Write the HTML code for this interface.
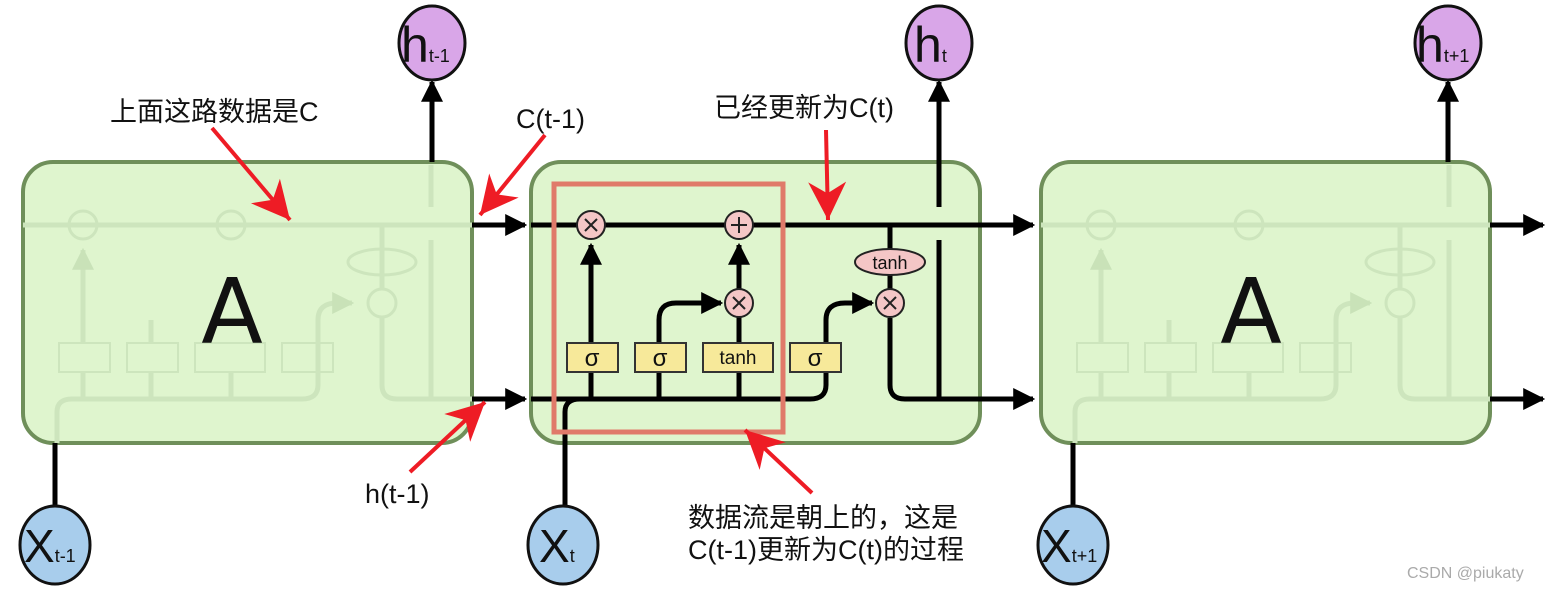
<!DOCTYPE html>
<html><head><meta charset="utf-8"><style>
html,body{margin:0;padding:0;background:#fff;}
svg{display:block;}
text{font-family:"Liberation Sans","Noto Sans CJK SC",sans-serif;}
</style></head><body>
<svg width="1556" height="591" viewBox="0 0 1556 591" xmlns="http://www.w3.org/2000/svg">
<defs>
<marker id="bk" viewBox="0 0 10 10" refX="9" refY="5" markerWidth="22" markerHeight="22" markerUnits="userSpaceOnUse" orient="auto"><path d="M0,0 L10,5 L0,10 z" fill="#000"/></marker>
<marker id="bkf" viewBox="0 0 10 10" refX="9" refY="5" markerWidth="22" markerHeight="22" markerUnits="userSpaceOnUse" orient="auto"><path d="M0,0 L10,5 L0,10 z" fill="#c9e2b8"/></marker>
<marker id="rd" viewBox="0 0 10 10" refX="10" refY="5" markerWidth="44" markerHeight="38" markerUnits="userSpaceOnUse" orient="auto"><path d="M0,0 L10,5 L0,10 L3,5 z" fill="#ee1c25"/></marker>
</defs>

<rect x="23" y="162" width="449" height="281" rx="30" fill="#dff5ce" stroke="#6f8f5a" stroke-width="4"/>
<rect x="531" y="162" width="449" height="281" rx="30" fill="#dff5ce" stroke="#6f8f5a" stroke-width="4"/>
<rect x="1041" y="162" width="449" height="281" rx="30" fill="#dff5ce" stroke="#6f8f5a" stroke-width="4"/>

<g transform="translate(-508,0)" stroke="#cde5bd" fill="none" stroke-width="5">
<line x1="531" y1="225" x2="980" y2="225"/>
<path d="M565 443 L565 412 Q565 399 580 399 L810 399 Q826 399 826 385 L826 320 Q826 303 845 303 L860 303" marker-end="url(#bkf)"/>
<line x1="591" y1="343" x2="591" y2="250" marker-end="url(#bkf)"/>
<line x1="591" y1="372" x2="591" y2="399"/>
<line x1="659" y1="372" x2="659" y2="399"/><line x1="659" y1="343" x2="659" y2="320"/>
<line x1="739" y1="372" x2="739" y2="399"/>
<line x1="890" y1="225" x2="890" y2="288"/>
<path d="M890 318 L890 385 Q890 399 905 399 L980 399"/>
<line x1="939" y1="165" x2="939" y2="207"/><line x1="939" y1="240" x2="939" y2="399"/>
<circle cx="591" cy="225" r="14" stroke-width="3"/><circle cx="739" cy="225" r="14" stroke-width="3"/><circle cx="890" cy="303" r="14" stroke-width="3"/>
<ellipse cx="890" cy="262" rx="34" ry="13" stroke-width="3"/>
<rect x="567" y="343" width="51" height="29" stroke-width="2"/><rect x="635" y="343" width="51" height="29" stroke-width="2"/><rect x="703" y="343" width="70" height="29" stroke-width="2"/><rect x="790" y="343" width="51" height="29" stroke-width="2"/>
</g>
<g transform="translate(510,0)" stroke="#cde5bd" fill="none" stroke-width="5">
<line x1="531" y1="225" x2="980" y2="225"/>
<path d="M565 443 L565 412 Q565 399 580 399 L810 399 Q826 399 826 385 L826 320 Q826 303 845 303 L860 303" marker-end="url(#bkf)"/>
<line x1="591" y1="343" x2="591" y2="250" marker-end="url(#bkf)"/>
<line x1="591" y1="372" x2="591" y2="399"/>
<line x1="659" y1="372" x2="659" y2="399"/><line x1="659" y1="343" x2="659" y2="320"/>
<line x1="739" y1="372" x2="739" y2="399"/>
<line x1="890" y1="225" x2="890" y2="288"/>
<path d="M890 318 L890 385 Q890 399 905 399 L980 399"/>
<line x1="939" y1="165" x2="939" y2="207"/><line x1="939" y1="240" x2="939" y2="399"/>
<circle cx="591" cy="225" r="14" stroke-width="3"/><circle cx="739" cy="225" r="14" stroke-width="3"/><circle cx="890" cy="303" r="14" stroke-width="3"/>
<ellipse cx="890" cy="262" rx="34" ry="13" stroke-width="3"/>
<rect x="567" y="343" width="51" height="29" stroke-width="2"/><rect x="635" y="343" width="51" height="29" stroke-width="2"/><rect x="703" y="343" width="70" height="29" stroke-width="2"/><rect x="790" y="343" width="51" height="29" stroke-width="2"/>
</g>
<text x="232" y="343" font-size="90" text-anchor="middle" fill="#111" style="font-family:'DejaVu Sans',sans-serif">A</text>
<text x="1251" y="343" font-size="90" text-anchor="middle" fill="#111" style="font-family:'DejaVu Sans',sans-serif">A</text>

<g stroke="#000" stroke-width="5" fill="none">
<line x1="472" y1="225" x2="525" y2="225" marker-end="url(#bk)"/>
<line x1="472" y1="399" x2="525" y2="399" marker-end="url(#bk)"/>
<line x1="980" y1="225" x2="1033" y2="225" marker-end="url(#bk)"/>
<line x1="980" y1="399" x2="1033" y2="399" marker-end="url(#bk)"/>
<line x1="1490" y1="225" x2="1543" y2="225" marker-end="url(#bk)"/>
<line x1="1490" y1="399" x2="1543" y2="399" marker-end="url(#bk)"/>
<line x1="432" y1="162" x2="432" y2="82" marker-end="url(#bk)"/>
<line x1="939" y1="207" x2="939" y2="82" marker-end="url(#bk)"/>
<line x1="1448" y1="162" x2="1448" y2="82" marker-end="url(#bk)"/>
<line x1="55" y1="443" x2="55" y2="505"/>
<line x1="1073" y1="443" x2="1073" y2="505"/>
<line x1="531" y1="225" x2="980" y2="225"/>
<line x1="531" y1="399" x2="810" y2="399"/>
<path d="M565 505 L565 412 Q565 399 580 399"/>
<path d="M810 399 Q826 399 826 385 L826 320 Q826 303 845 303 L872 303" marker-end="url(#bk)"/>
<line x1="591" y1="399" x2="591" y2="245" marker-end="url(#bk)"/>
<path d="M659 399 L659 320 Q659 303 676 303 L721 303" marker-end="url(#bk)"/>
<line x1="739" y1="399" x2="739" y2="245" marker-end="url(#bk)"/>
<line x1="890" y1="225" x2="890" y2="290"/>
<path d="M890 318 L890 385 Q890 399 905 399 L980 399"/>
<line x1="939" y1="240" x2="939" y2="399"/>
</g>
<g stroke="#222" stroke-width="2" fill="#f4c6c6">
<circle cx="591" cy="225" r="14"/><circle cx="739" cy="225" r="14"/><circle cx="739" cy="303" r="14"/><circle cx="890" cy="303" r="14"/>
<ellipse cx="890" cy="262" rx="35" ry="13"/>
</g>
<g stroke="#222" stroke-width="2">
<line x1="585" y1="219" x2="597" y2="231"/><line x1="597" y1="219" x2="585" y2="231"/>
<line x1="733" y1="297" x2="745" y2="309"/><line x1="745" y1="297" x2="733" y2="309"/>
<line x1="884" y1="297" x2="896" y2="309"/><line x1="896" y1="297" x2="884" y2="309"/>
<line x1="731" y1="225" x2="747" y2="225"/><line x1="739" y1="217" x2="739" y2="233"/>
</g>
<text x="890" y="269" font-size="18" text-anchor="middle" fill="#111">tanh</text>
<g fill="#f7e99a" stroke="#333" stroke-width="2">
<rect x="567" y="343" width="51" height="29"/><rect x="635" y="343" width="51" height="29"/><rect x="703" y="343" width="70" height="29"/><rect x="790" y="343" width="51" height="29"/>
</g>
<g font-size="24" text-anchor="middle" fill="#111">
<text x="592" y="366">σ</text><text x="660" y="366">σ</text><text x="815" y="366">σ</text>
<text x="738" y="364" font-size="19">tanh</text>
</g>

<rect x="554" y="184" width="229" height="248" fill="none" stroke="#e07a6a" stroke-width="5"/>

<g stroke="#111" stroke-width="3">
<ellipse cx="432" cy="43" rx="33" ry="37" fill="#d9a6e8"/>
<ellipse cx="939" cy="43" rx="33" ry="37" fill="#d9a6e8"/>
<ellipse cx="1448" cy="43" rx="33" ry="37" fill="#d9a6e8"/>
<ellipse cx="55" cy="545" rx="35" ry="39" fill="#a8cdec"/>
<ellipse cx="563" cy="545" rx="35" ry="39" fill="#a8cdec"/>
<ellipse cx="1073" cy="545" rx="35" ry="39" fill="#a8cdec"/>
</g>
<g fill="#111">
<text x="401" y="62" font-size="50">h<tspan font-size="18">t-1</tspan></text>
<text x="914" y="62" font-size="50">h<tspan font-size="18">t</tspan></text>
<text x="1416" y="62" font-size="50">h<tspan font-size="18">t+1</tspan></text>
<text x="24" y="562" font-size="46">X<tspan font-size="18">t-1</tspan></text>
<text x="539" y="562" font-size="46">X<tspan font-size="18">t</tspan></text>
<text x="1041" y="562" font-size="46">X<tspan font-size="18">t+1</tspan></text>
</g>

<g stroke="#ee1c25" stroke-width="4" fill="none">
<line x1="212" y1="128" x2="290" y2="220" marker-end="url(#rd)"/>
<line x1="545" y1="135" x2="480" y2="215" marker-end="url(#rd)"/>
<line x1="826" y1="130" x2="828" y2="220" marker-end="url(#rd)"/>
<line x1="410" y1="472" x2="485" y2="402" marker-end="url(#rd)"/>
<line x1="812" y1="493" x2="745" y2="430" marker-end="url(#rd)"/>
</g>
<g fill="#111" font-size="27">
<text x="110" y="121">上面这路数据是C</text>
<text x="516" y="128">C(t-1)</text>
<text x="714" y="117">已经更新为C(t)</text>
<text x="365" y="503">h(t-1)</text>
<text x="688" y="527">数据流是朝上的，这是</text>
<text x="688" y="559">C(t-1)更新为C(t)的过程</text>
</g>
<text x="1407" y="578" font-size="16" fill="#aaa">CSDN @piukaty</text>
</svg>
</body></html>
